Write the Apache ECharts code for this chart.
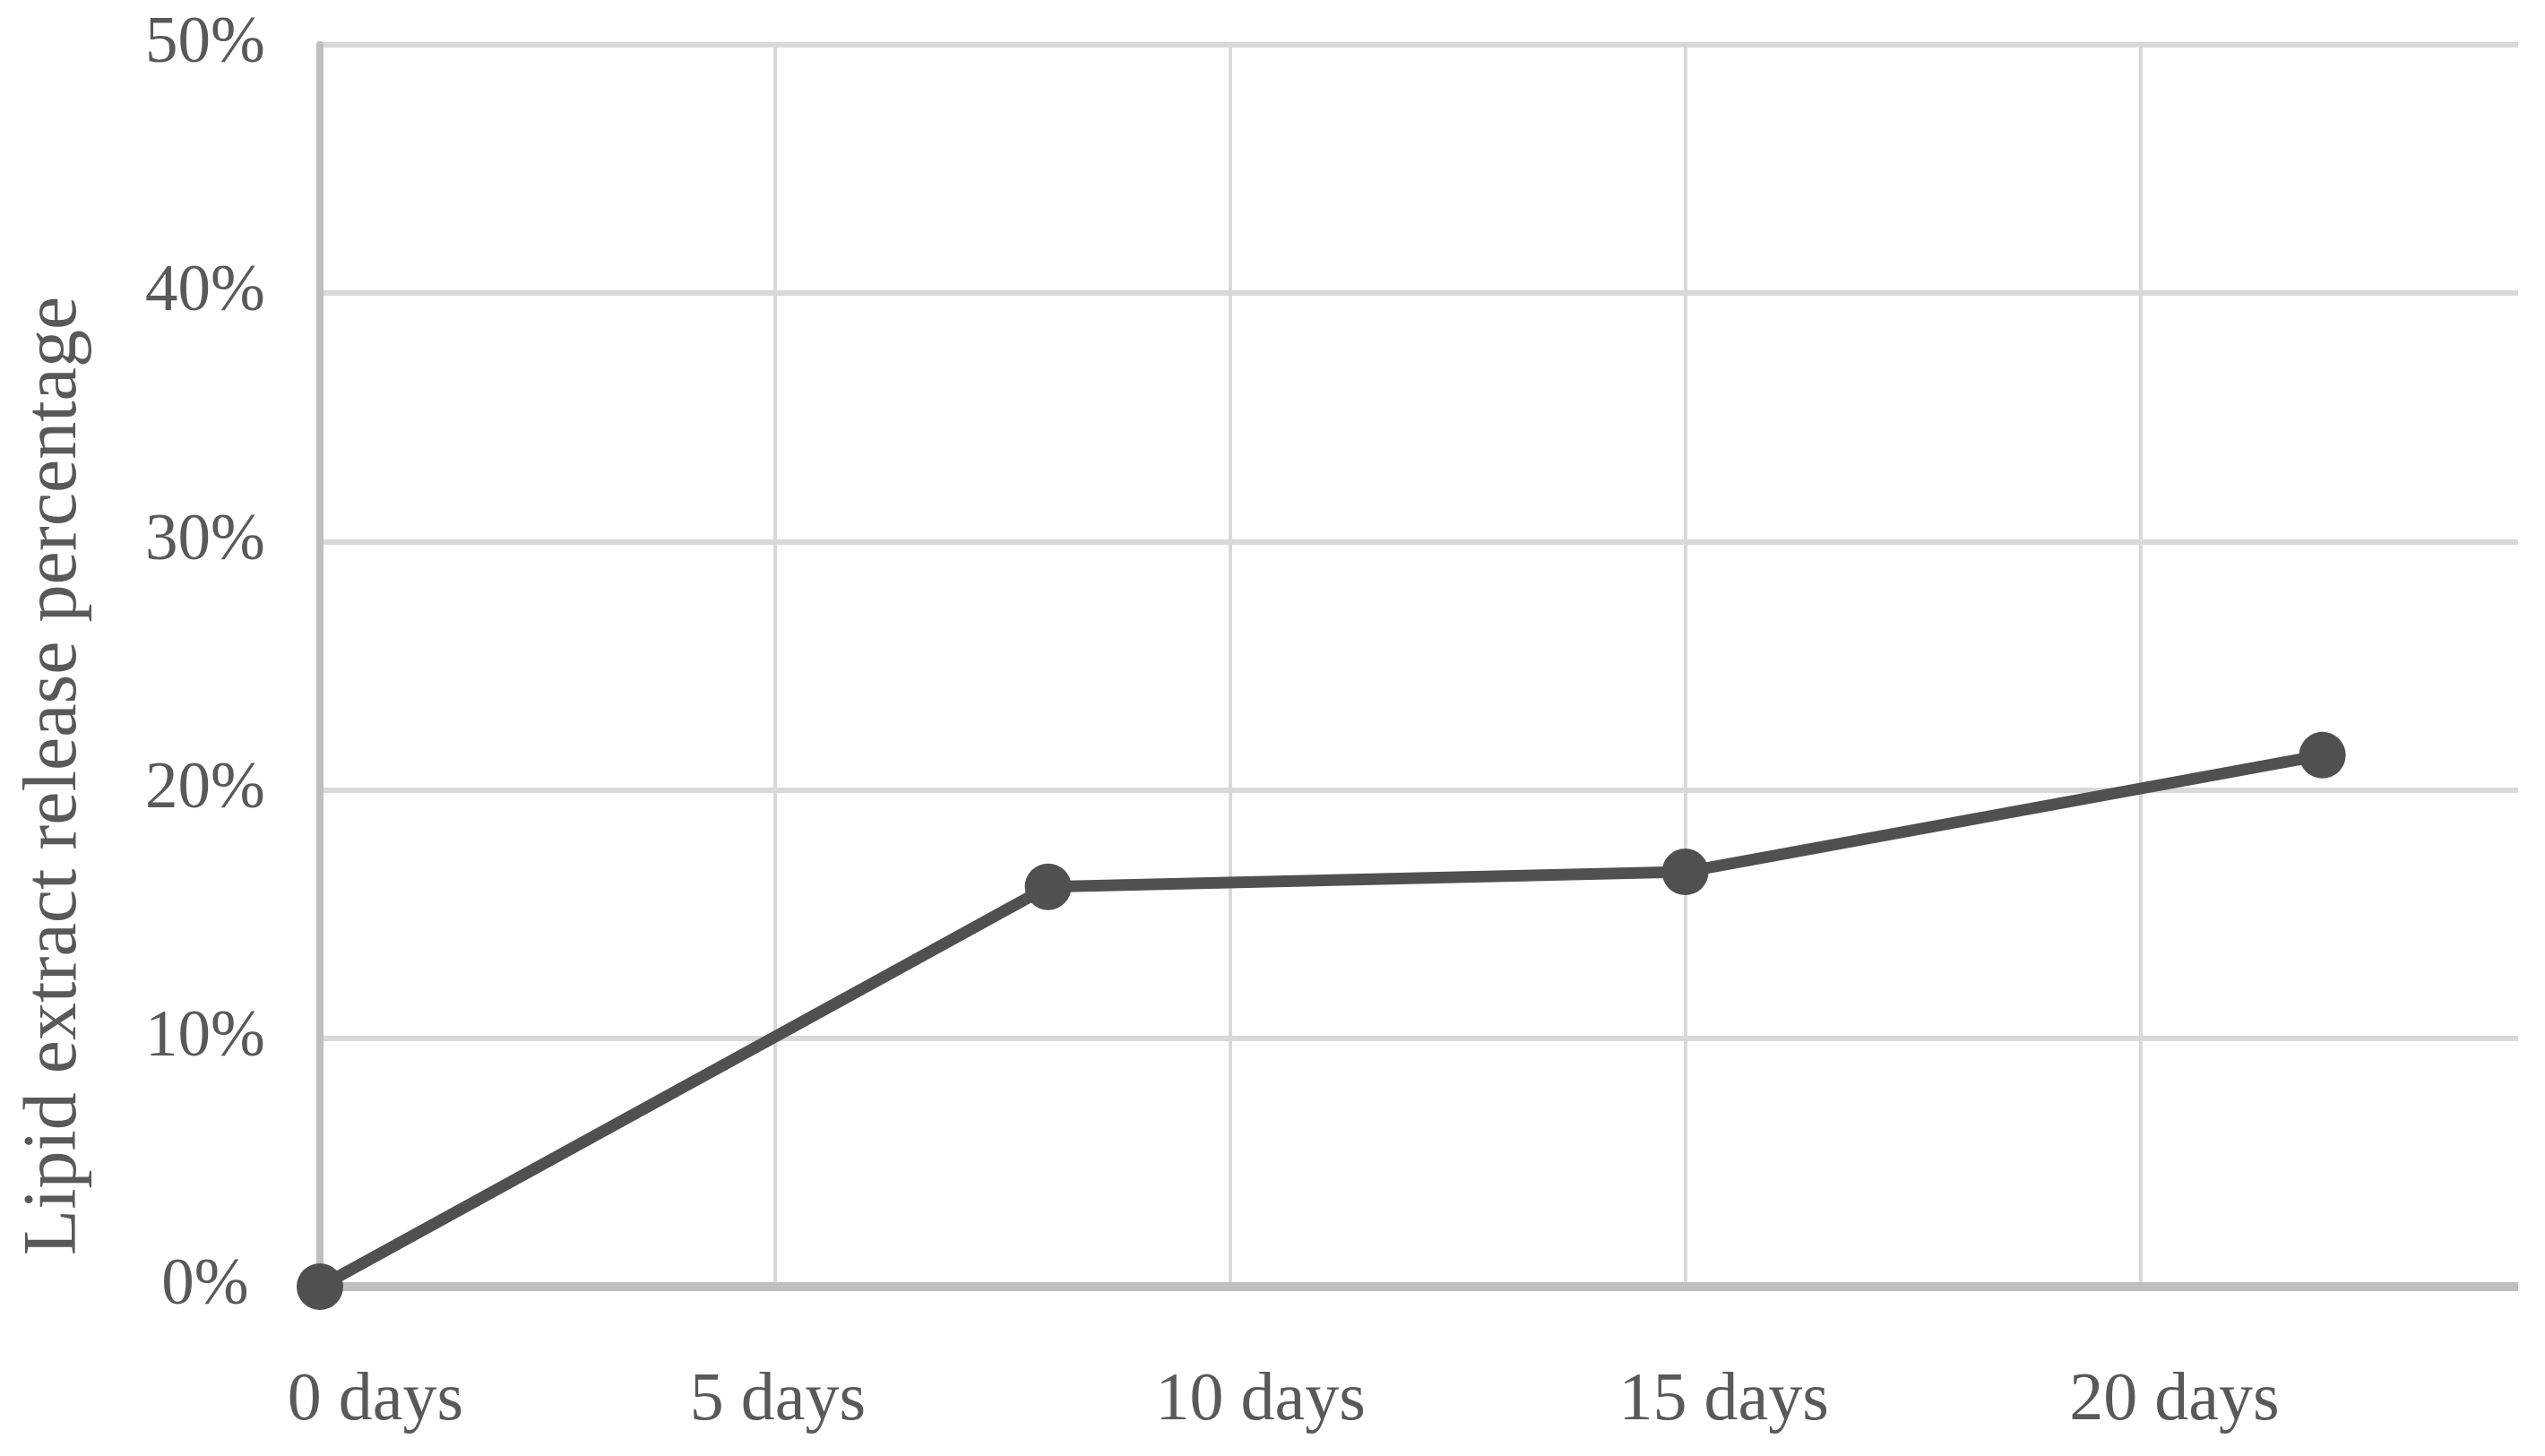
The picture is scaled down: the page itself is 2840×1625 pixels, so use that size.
<!DOCTYPE html>
<html>
<head>
<meta charset="utf-8">
<script src="https://cdn.jsdelivr.net/npm/echarts@6/dist/echarts.min.js"></script>
<style>html,body{margin:0;padding:0;background:#fff}#c{width:2840px;height:1625px}</style>
</head>
<body>
<div id="c"></div>
<script>
const days = [0, 8, 15, 22];
const releasePct = [0, 16.1, 16.7, 21.4];
const xTicks = [0, 5, 10, 15, 20];
const xTickLabels = ['0 days', '5 days', '10 days', '15 days', '20 days'];
const yTickLabelSuffix = '%';
const yTitle = 'Lipid extract release percentage';

const FONT = '"Liberation Serif", "DejaVu Serif", serif';
const TXT = '#595959';
// horizontal nudges of the x tick labels (left padding, px) as placed in the original
const labelPad = [124, 6, 68, 86, 76];

const rich = {};
labelPad.forEach((p, i) => {
  rich['l' + i] = {color: TXT, fontFamily: FONT, fontSize: 76, padding: [0, 0, 0, p]};
});

const chart = echarts.init(document.getElementById('c'), null, {renderer: 'canvas'});
chart.setOption({
  backgroundColor: '#ffffff',
  animation: false,
  grid: {left: 357, right: 30, top: 50, bottom: 189, containLabel: false},
  xAxis: {
    type: 'value', min: 0, max: 24.15, interval: 5,
    axisLine: {show: false},
    axisTick: {show: false},
    axisLabel: {
      color: TXT, fontFamily: FONT, fontSize: 76, margin: 90,
      showMaxLabel: false,
      rich: rich,
      formatter: v => {
        const i = xTicks.indexOf(v);
        return i < 0 ? '' : '{l' + i + '|' + xTickLabels[i] + '}';
      }
    },
    splitLine: {show: true, showMaxLine: false, lineStyle: {color: '#d9d9d9', width: 4}}
  },
  yAxis: {
    type: 'value', min: 0, max: 50, interval: 10,
    axisLine: {show: true, lineStyle: {color: '#bfbfbf', width: 8}},
    axisTick: {show: false},
    axisLabel: {
      color: TXT, fontFamily: FONT, fontSize: 73, margin: 128, align: 'center',
      formatter: v => v + yTickLabelSuffix
    },
    splitLine: {show: true, lineStyle: {color: '#d9d9d9', width: 6}}
  },
  graphic: [{
    type: 'text', x: 62, y: 866, rotation: Math.PI / 2, silent: true,
    style: {text: yTitle, fill: TXT, font: '84px ' + FONT, textAlign: 'center', textVerticalAlign: 'middle'}
  }],
  series: [
    {
      type: 'line', data: [[0, 0], [24.15, 0]], symbol: 'none', silent: true,
      lineStyle: {color: '#bfbfbf', width: 10}, z: 1
    },
    {
      type: 'line',
      data: days.map((d, i) => [d, releasePct[i]]),
      symbol: 'circle', symbolSize: 52,
      itemStyle: {color: '#505050'},
      lineStyle: {color: '#505050', width: 13},
      z: 3
    }
  ]
});
</script>
</body>
</html>
